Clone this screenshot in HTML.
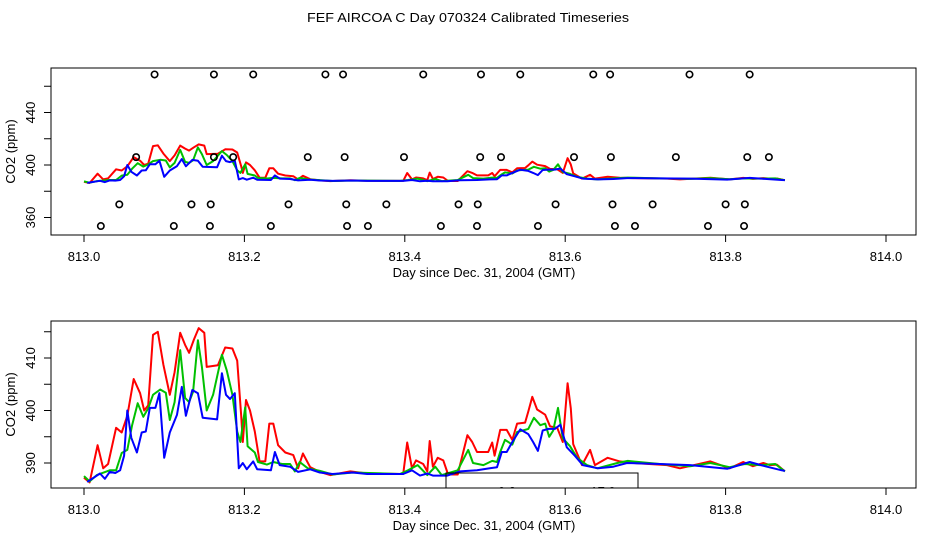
<!DOCTYPE html>
<html><head><meta charset="utf-8"><style>
html,body{margin:0;padding:0;background:#fff;}
svg{display:block;font-family:"Liberation Sans",sans-serif;}
</style></head><body>
<svg id="chart" width="936" height="540" viewBox="0 0 936 540" xmlns="http://www.w3.org/2000/svg">
<text x="468" y="22" font-size="13" text-anchor="middle" textLength="322" lengthAdjust="spacingAndGlyphs">FEF AIRCOA C  Day 070324  Calibrated Timeseries</text>
</svg>
<script>
// ---- data (days since 813.0, CO2 ppm) ----
const redT=[0,.007,.017,.024,.030,.040,.047,.054,.062,.070,.075,.080,.086,.092,.099,.107,.113,.120,.126,.131,.137,.143,.150,.153,.167,.176,.185,.191,.196,.198,.202,.207,.213,.219,.226,.231,.236,.242,.251,.261,.267,.273,.282,.294,.307,.332,.353,.398,.403,.409,.414,.423,.428,.431,.435,.441,.448,.454,.466,.478,.484,.490,.504,.509,.512,.519,.527,.534,.540,.550,.554,.559,.565,.575,.581,.590,.597,.603,.607,.610,.621,.631,.637,.653,.668,.685,.727,.743,.781,.805,.822,.834,.847,.855,.864,.874];
const redV=[387.2,386.3,393.4,389,389.8,396.7,395.8,399,406,403.3,400,401,414.4,415,408.7,403,407.3,414.8,412.5,411,413.5,415.7,414.8,408.3,408.6,412,411.8,409.5,399,394,402,400,396,390.3,390.3,397.5,397.5,393.4,392,391.5,389,391.8,389.2,388.3,387.7,388.4,388,387.9,393.9,389,390.5,389.8,388.4,394.2,389.3,391,390.5,387.8,387.8,395.3,394,392.1,392.1,393.9,391.4,396.3,396.3,394.4,397.5,397.7,399.8,402.6,400.2,399.2,397,396.7,394,405.2,400.4,393.6,389.6,392.5,389.6,391,390.3,390,389.6,389,390.3,389,390.2,389.4,390,389.6,389.7,388.4];
const greenT=[0,.007,.016,.032,.040,.047,.054,.060,.067,.074,.080,.086,.095,.102,.107,.113,.120,.126,.131,.136,.142,.147,.153,.161,.172,.178,.185,.191,.195,.201,.204,.213,.217,.228,.236,.247,.257,.263,.269,.279,.294,.310,.335,.394,.404,.416,.428,.438,.446,.466,.479,.485,.498,.509,.515,.519,.525,.534,.540,.547,.554,.561,.569,.575,.580,.585,.591,.597,.606,.615,.627,.640,.665,.678,.718,.756,.781,.805,.824,.843,.862,.874];
const greenV=[387.5,386.5,387.7,388.6,388.6,391.9,392.5,397.2,401.4,398.8,400.4,403,404,403.4,398.2,401.6,411.5,402.4,401.6,403.6,413.4,408.3,400,403,410.6,407.6,403,396,394,400.6,393.2,392,390.2,389.7,390.2,389.8,389.8,388.4,390.2,389,388.5,387.8,388.2,387.9,388.6,389.6,387.7,389.3,387.7,388.6,392.5,390,389.6,390.4,390.2,392.1,394.4,393.5,395.9,396.2,396.5,398.6,397.2,397.5,395,396.2,400.5,394.7,393.2,391,389.6,389,390,390.4,389.8,389.4,390,389.2,389.8,389.6,389.8,388.4];
const blueT=[.004,.020,.026,.032,.039,.045,.050,.054,.059,.066,.072,.077,.082,.089,.094,.100,.107,.116,.122,.127,.135,.142,.148,.166,.172,.177,.182,.188,.193,.198,.203,.211,.216,.233,.238,.244,.257,.267,.282,.294,.310,.335,.353,.398,.409,.419,.428,.435,.453,.469,.490,.506,.515,.521,.527,.534,.544,.554,.560,.566,.572,.579,.587,.594,.597,.602,.612,.622,.641,.660,.677,.718,.756,.802,.830,.849,.870,.874];
const blueV=[386.4,388,387,388.3,388.1,388.6,391.4,400,394.8,392,395.8,396,400.5,400.5,403.3,391,395.8,399.2,404.5,399,403.9,403.3,398.6,398.3,407.1,403,402.2,403.3,389,390,388.8,390.3,388.8,388.6,392.1,389.6,389.3,388.3,388.8,388.2,387.9,388.2,387.9,387.9,388.6,387.6,388,387.6,387.6,388.4,388.6,389,389.2,392.1,392.1,394,396.4,395.5,394,392.3,396.2,396.5,396.5,397.3,395.6,393,391.4,389.6,389,389.3,390,389.8,389.6,388.9,390.2,389.4,388.6,388.5];
// flag markers in top panel (day offset, plotted value)
const flagT=[.088,.162,.211,.301,.323,.423,.495,.544,.635,.656,.755,.830,
 .065,.162,.186,.279,.325,.399,.494,.520,.611,.657,.738,.827,.854,
 .044,.134,.158,.255,.327,.377,.467,.491,.588,.659,.709,.800,.824,
 .021,.112,.157,.233,.328,.354,.445,.490,.566,.662,.687,.778,.823];
const flagV=[469,469,469,469,469,469,469,469,469,469,469,469,
 406,406,406,406,406,406,406,406,406,406,406,406,406,
 370,370,370,370,370,370,370,370,370,370,370,370,370,
 353.5,353.5,353.5,353.5,353.5,353.5,353.5,353.5,353.5,353.5,353.5,353.5,353.5];
const xTicks=[813.0,813.2,813.4,813.6,813.8,814.0];
const topYTicks=[360,380,400,420,440,460];
const topYLabels=[360,400,440];
const botYTicks=[390,395,400,405,410,415];
const botYLabels=[390,400,410];

const NS="http://www.w3.org/2000/svg";
const svg=document.getElementById('chart');
function mk(tag,attrs,parent){const e=document.createElementNS(NS,tag);for(const k in attrs)e.setAttribute(k,attrs[k]);(parent||svg).appendChild(e);return e;}
const L=51,R=916;
const xs=d=>84+(d-813)*802;

function panel(name,top,bottom,yf,yTicks,yLabels,flags){
  const g=mk('g',{});
  
  
  const cid='clip-'+name;
  const cp=mk('clipPath',{id:cid},g);mk('rect',{x:L,y:top,width:R-L,height:bottom-top},cp);
  const box=mk('rect',{x:L,y:top,width:R-L,height:bottom-top,fill:'none',stroke:'#000','stroke-width':1},g);
  
  
  const xa=mk('g',{},g);
  
  
  xTicks.forEach(t=>{const x=xs(t);
    mk('line',{x1:x,x2:x,y1:bottom,y2:bottom+7,stroke:'#000'},xa);
    const tx=mk('text',{x:x,y:bottom+26,'font-size':13,'text-anchor':'middle'},xa);tx.textContent=t.toFixed(1);
    
    
  });
  const xl=mk('text',{x:484,y:bottom+42,'font-size':13,'text-anchor':'middle'},g);xl.textContent='Day since Dec. 31, 2004 (GMT)';
  
  
  const ya=mk('g',{},g);
  
  
  yTicks.forEach(v=>{const y=yf(v);mk('line',{x1:L-7,x2:L,y1:y,y2:y,stroke:'#000'},ya);});
  yLabels.forEach(v=>{const y=yf(v);
    const tx=mk('text',{x:0,y:0,'font-size':13,'text-anchor':'middle',transform:`translate(35,${y}) rotate(-90)`},ya);tx.textContent=v;
    
    
  });
  const yl=mk('text',{x:0,y:0,'font-size':13,'text-anchor':'middle',transform:`translate(15,${(top+bottom)/2}) rotate(-90)`},g);yl.textContent='CO2 (ppm)';
  
  
  const pg=mk('g',{'clip-path':`url(#${cid})`},g);
  [[redT,redV,'#ff0000','red-series'],[greenT,greenV,'#00c000','green-series'],[blueT,blueV,'#0000ff','blue-series']].forEach(([T,V,c,n])=>{
    const pts=T.map((t,i)=>xs(813+t).toFixed(1)+','+yf(V[i]).toFixed(1)).join(' ');
    const pl=mk('polyline',{points:pts,fill:'none',stroke:c,'stroke-width':2,'stroke-linejoin':'round'},pg);
    
    
  });
  return {g,pg};
}
const topY=v=>165-(v-400)*1.3125;
const botY=v=>463-(v-390)*5.25;
const p1=panel('top-panel',68,235,topY,topYTicks,topYLabels);
flagT.forEach((t,i)=>{
  const c=mk('circle',{cx:xs(813+t),cy:topY(flagV[i]),r:3.2,fill:'none',stroke:'#000','stroke-width':1.6},p1.pg);
  
  
});
const p2=panel('bottom-panel',321,488,botY,botYTicks,botYLabels);
const lg=mk('g',{},p2.pg);


mk('rect',{x:446,y:473,width:192,height:40,fill:'none',stroke:'#000'},lg);
const t1=mk('text',{x:507,y:496,'font-size':13,'text-anchor':'middle'},lg);t1.textContent='9.8';


const t2=mk('text',{x:603,y:496,'font-size':13,'text-anchor':'middle'},lg);t2.textContent='17.0';


</script>
</body></html>
